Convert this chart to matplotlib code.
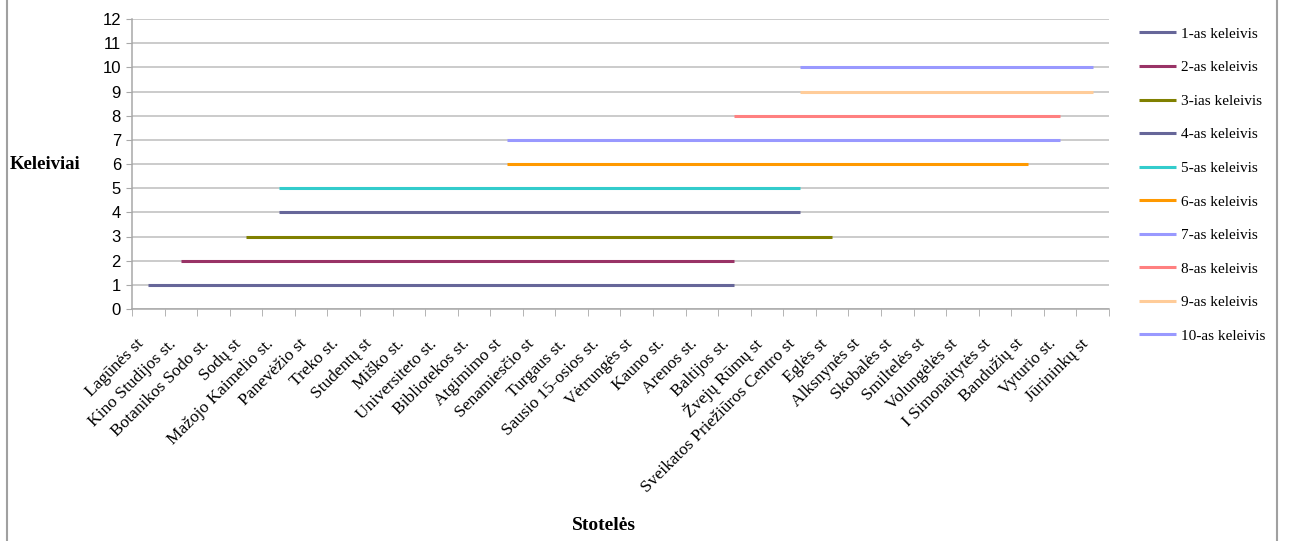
import matplotlib
matplotlib.use('Agg')
import matplotlib.pyplot as plt
import matplotlib.transforms as mtransforms
import numpy as np
from matplotlib.lines import Line2D

# ---- data ----
stops = [
    'Lagūnės st', 'Kino Studijos st.', 'Botanikos Sodo st.', 'Sodų st',
    'Mažojo Kaimelio st.', 'Panevėžio st', 'Treko st.', 'Studentų st',
    'Miško st.', 'Universiteto st.', 'Bibliotekos st.', 'Atgimimo st',
    'Senamiesčio st', 'Turgaus st.', 'Sausio 15-osios st.', 'Vėtrungės st',
    'Kauno st.', 'Arenos st.', 'Baltijos st.', 'Žvejų Rūmų st',
    'Sveikatos Priežiūros Centro st', 'Eglės st', 'Alksnynės st', 'Skobalės st',
    'Smiltelės st', 'Volungėlės st', 'I Simonaitytės st', 'Bandužių st',
    'Vyturio st.', 'Jūrininkų st',
]
passengers = ['1-as keleivis', '2-as keleivis', '3-ias keleivis', '4-as keleivis',
              '5-as keleivis', '6-as keleivis', '7-as keleivis', '8-as keleivis',
              '9-as keleivis', '10-as keleivis']
levels = [1, 2, 3, 4, 5, 6, 7, 8, 9, 10]
board_stop = ['Lagūnės st', 'Kino Studijos st.', 'Sodų st', 'Mažojo Kaimelio st.',
              'Mažojo Kaimelio st.', 'Atgimimo st', 'Atgimimo st', 'Baltijos st.',
              'Sveikatos Priežiūros Centro st', 'Sveikatos Priežiūros Centro st']
exit_stop = ['Baltijos st.', 'Baltijos st.', 'Eglės st', 'Sveikatos Priežiūros Centro st',
             'Sveikatos Priežiūros Centro st', 'Bandužių st', 'Vyturio st.', 'Vyturio st.',
             'Jūrininkų st', 'Jūrininkų st']
colors = ['#666699', '#993366', '#808000', '#666699', '#33CCCC',
          '#FF9900', '#9999FF', '#FF8080', '#FFCC99', '#9999FF']
y_ticks = list(range(0, 13))

# ---- figure ----
W, H = 1289, 541
fig = plt.figure(figsize=(W / 100, H / 100), dpi=100)
fig.patch.set_facecolor('white')
left, right, top, bottom = 132, 1109, 19, 309
ax = fig.add_axes([left / W, 1 - bottom / H, (right - left) / W, (bottom - top) / H])

x = np.arange(len(stops))
for name, lvl, b, e, c in zip(passengers, levels, board_stop, exit_stop, colors):
    i0, i1 = stops.index(b), stops.index(e)
    xs = x[i0:i1 + 1]
    ax.plot(xs, [lvl] * len(xs), color=c, lw=2.2, solid_capstyle='butt', label=name)

ax.set_xlim(-0.5, len(stops) - 0.5)
ax.set_ylim(0, 12)
ax.set_yticks(y_ticks)
ax.set_yticklabels([str(v) for v in y_ticks], fontfamily='Liberation Sans', fontsize=12)
ax.grid(axis='y', color='#BDBDBD', lw=1.1)
ax.set_axisbelow(True)
for s in ['top', 'right']:
    ax.spines[s].set_visible(False)
for s in ['left', 'bottom']:
    ax.spines[s].set_color('#A8A8A8')
    ax.spines[s].set_linewidth(1.1)
ax.tick_params(axis='y', length=4, color='#A8A8A8', pad=4)

ax.set_xticks(x)
ax.set_xticklabels(stops, rotation=45, ha='right', rotation_mode='anchor',
                   fontfamily='Liberation Serif', fontsize=12.5, va='center')
ax.tick_params(axis='x', which='major', length=0, pad=19)
ax.set_xticks(np.arange(-0.5, len(stops)), minor=True)
ax.tick_params(axis='x', which='minor', length=5, color='#A8A8A8')
offset = mtransforms.ScaledTranslation(-7 / 100, -6 / 100, fig.dpi_scale_trans)
for lab in ax.get_xticklabels():
    lab.set_transform(lab.get_transform() + offset)

fig.text(10 / W, 1 - 164 / H, 'Keleiviai', fontfamily='Liberation Serif', fontweight='bold',
         fontsize=13.5, ha='left', va='center')
fig.text(604 / W, 1 - 525 / H, 'Stotelės', fontfamily='Liberation Serif', fontweight='bold',
         fontsize=14, ha='center', va='center')

leg = fig.legend(loc='upper left', bbox_to_anchor=(1133 / W, 1 - 21 / H), frameon=False,
                 prop={'family': 'Liberation Serif', 'size': 11},
                 handlelength=2.4, handletextpad=0.35, labelspacing=1.3, borderaxespad=0)

# chart-area border (left and right edges)
fig.add_artist(Line2D([7 / W, 7 / W], [0, 1], transform=fig.transFigure, color='#A0A0A0', lw=1.5))
fig.add_artist(Line2D([1277 / W, 1277 / W], [0, 1], transform=fig.transFigure, color='#A0A0A0', lw=1.5))

fig.savefig('out.png', dpi=100, facecolor='white')
